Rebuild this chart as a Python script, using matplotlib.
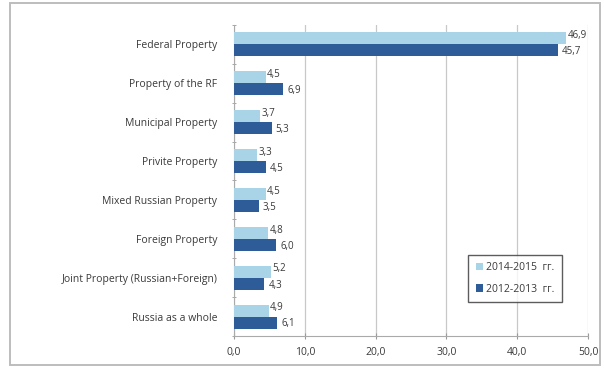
import numpy as np
import matplotlib.pyplot as plt
from matplotlib.patches import Rectangle

categories = ['Federal Property', 'Property of the RF', 'Municipal Property',
              'Privite Property', 'Mixed Russian Property', 'Foreign Property',
              'Joint Property (Russian+Foreign)', 'Russia as a whole']
vals_2014 = [46.9, 4.5, 3.7, 3.3, 4.5, 4.8, 5.2, 4.9]
vals_2012 = [45.7, 6.9, 5.3, 4.5, 3.5, 6.0, 4.3, 6.1]
series_names = ['2014-2015  гг.', '2012-2013  гг.']
xticks = [0, 10, 20, 30, 40, 50]

light = '#a9d3e6'
dark = '#2d5c99'
txt = '#3a3a3a'

plt.rcParams['font.family'] = ['Open Sans', 'DejaVu Sans']

fig = plt.figure(figsize=(6.04, 3.68), dpi=100)
fig.patches.append(Rectangle((10 / 604, 3 / 368), 590 / 604, 362 / 368,
                             transform=fig.transFigure, fill=False,
                             edgecolor='#bdbdbd', linewidth=1.4))
ax = fig.add_axes([234 / 604, 1 - 336 / 368, 354 / 604, 311 / 368])

y = np.arange(len(categories))
h = 0.31
ax.barh(y - h / 2, vals_2014, height=h, color=light, label=series_names[0], zorder=3)
ax.barh(y + h / 2, vals_2012, height=h, color=dark, label=series_names[1], zorder=3)

for yi, a, b in zip(y, vals_2014, vals_2012):
    ax.annotate(f'{a:.1f}'.replace('.', ','), (a, yi - h / 2), xytext=(1, 2),
                textcoords='offset points', fontsize=7, color=txt,
                ha='left', va='center')
    ax.annotate(f'{b:.1f}'.replace('.', ','), (b, yi + h / 2), xytext=(3, -1),
                textcoords='offset points', fontsize=7, color=txt,
                ha='left', va='center')

ax.set_ylim(len(categories) - 0.5, -0.5)
ax.set_xlim(0, 50)
ax.set_xticks(xticks)
ax.set_xticklabels([f'{t:.1f}'.replace('.', ',') for t in xticks],
                   fontsize=7.5, color=txt)
ax.set_yticks(y)
ax.set_yticklabels(categories, fontsize=7.5, color=txt)
ax.set_yticks(np.arange(len(categories) + 1) - 0.5, minor=True)
ax.tick_params(axis='y', which='major', length=0, pad=12)
ax.tick_params(axis='y', which='minor', length=3, direction='inout', color='#999999')
ax.tick_params(axis='x', length=4, direction='inout', color='#999999', pad=6)

ax.grid(axis='x', color='#c8c8c8', linewidth=0.9, zorder=0)
for s in ['top', 'right']:
    ax.spines[s].set_visible(False)
for s in ['left', 'bottom']:
    ax.spines[s].set_color('#aaaaaa')

leg = ax.legend(loc='upper left', bbox_to_anchor=(0.647, 0.277), fontsize=7.5,
                frameon=True, fancybox=False, edgecolor='#333333',
                handlelength=0.7, handleheight=0.7, handletextpad=0.3,
                labelspacing=1.0, borderpad=0.7)
for t in leg.get_texts():
    t.set_color(txt)
leg.get_frame().set_linewidth(1.0)

fig.savefig('out.png', dpi=100)
